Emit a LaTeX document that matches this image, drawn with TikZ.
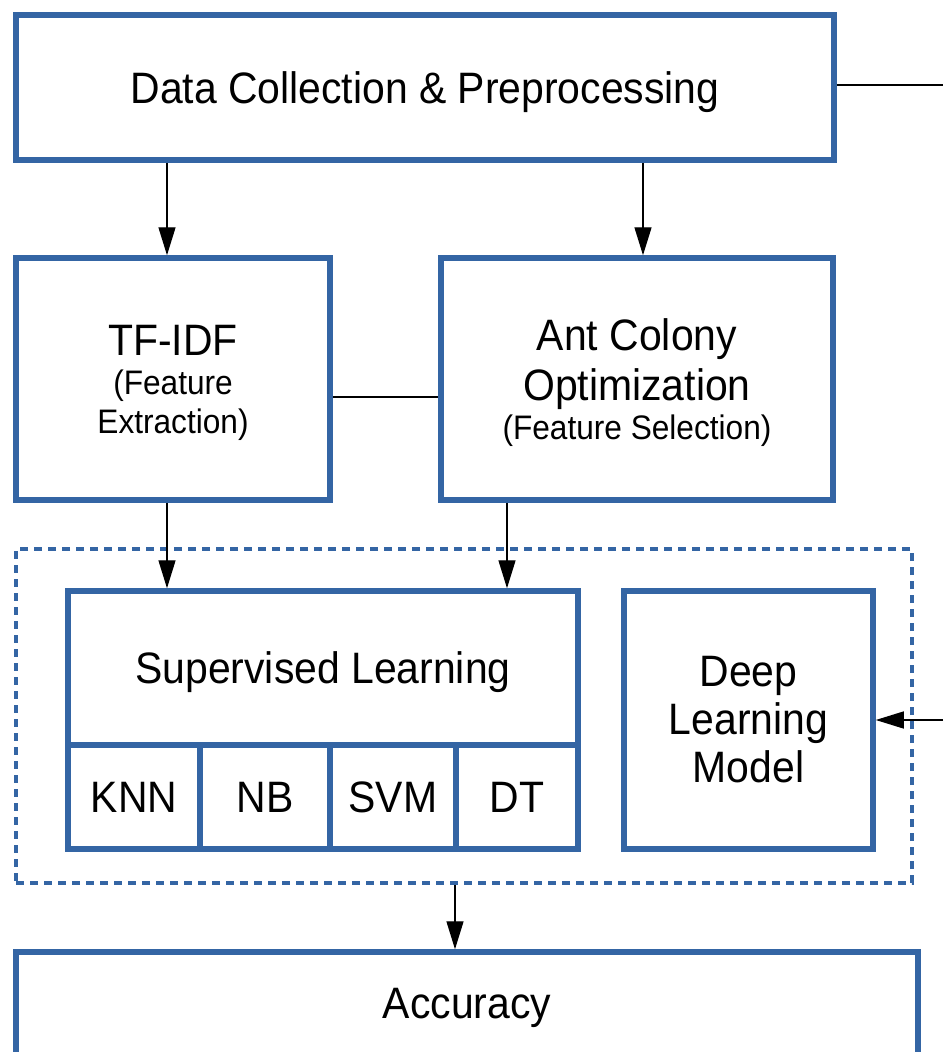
\documentclass[tikz,border=0pt]{standalone}
\usepackage{fontspec}
\setmainfont{Liberation Sans}[FakeStretch=0.93]
\usetikzlibrary{arrows.meta}
\definecolor{boxblue}{RGB}{52,101,164}
\newcommand{\bigf}{\fontsize{44}{50}\selectfont}
\newcommand{\smallf}{\fontsize{34}{39}\selectfont}
\begin{document}
\begin{tikzpicture}[x=1pt,y=-1pt,
  box/.style={draw=boxblue, line width=5.5pt, inner sep=0pt, align=center, font=\bigf},
  dashbox/.style={draw=boxblue, line width=4pt, dash pattern=on 8pt off 6pt},
  arr/.style={-{Triangle[length=28pt,width=17pt]}, line width=1.4pt, black},
  plain/.style={line width=1.4pt, black}]
\useasboundingbox (0,0) rectangle (943,1052);
\clip (0,0) rectangle (943,1052);

% top
\node[box, minimum width=818pt, minimum height=145pt, text depth=0pt] (data) at (425,87.5) {Data Collection \& Preprocessing};
\node[box, minimum width=314pt, minimum height=242pt, font=\smallf, text depth=0pt] (tfidf) at (173,379)
  {{\bigf TF-IDF}\\(Feature\\Extraction)};
\node[box, minimum width=392pt, minimum height=242pt, text depth=0pt] (aco) at (637,379)
  {Ant Colony\\Optimization\\[-11pt]{\smallf (Feature Selection)}};

% dashed group
\node[dashbox, minimum width=896pt, minimum height=334pt, inner sep=0pt] (group) at (464,716) {};

\node[box, minimum width=510pt, minimum height=154pt, text depth=0pt] (sl) at (323,668) {Supervised Learning};
\node[box, minimum width=132pt, minimum height=104pt] (knn) at (134,797) {KNN};
\node[box, minimum width=130pt, minimum height=104pt] (nb) at (265,797) {NB};
\node[box, minimum width=126pt, minimum height=104pt] (svm) at (393,797) {SVM};
\node[box, minimum width=122pt, minimum height=104pt] (dt) at (517,797) {DT};
\node[box, minimum width=249pt, minimum height=258pt, font=\fontsize{44}{48}\selectfont] (dlm) at (748.5,720) {Deep\\Learning\\Model};

\node[box, minimum width=902pt, minimum height=200pt] (acc) at (467,1052) {};
\node[font=\bigf, anchor=base] (acctext) at (467,1018) {Accuracy};

\coordinate (outA) at (943,85);
\coordinate (inB) at (943,720);

% connectors
\draw[plain] (data.east |- outA) -- (outA);
\draw[arr] (data.south -| 167,0) -- (tfidf.north -| 167,0);
\draw[arr] (data.south -| 643,0) -- (aco.north -| 643,0);
\draw[plain] (tfidf.east |- 0,397) -- (aco.west |- 0,397);
\draw[arr] (tfidf.south -| 167,0) -- (sl.north -| 167,0);
\draw[arr] (aco.south -| 507,0) -- (sl.north -| 507,0);
\draw[arr] (inB) -- (dlm.east |- inB);
\draw[arr] (group.south -| 455,0) -- (acc.north -| 455,0);
\end{tikzpicture}
\end{document}
